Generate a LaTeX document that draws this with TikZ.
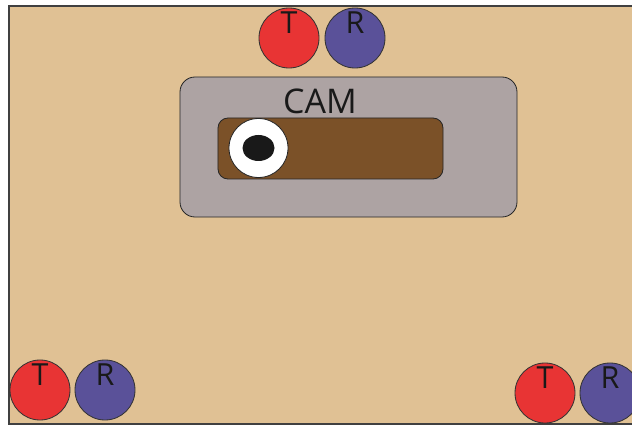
\documentclass[tikz,border=0pt]{standalone}
\usepackage{fontspec}
\setmainfont{Open Sans}
\usepackage{tikz}
\usetikzlibrary{positioning,shapes.geometric}

\definecolor{board}{HTML}{E0C194}
\definecolor{camgray}{HTML}{ADA3A3}
\definecolor{slot}{HTML}{7B5128}
\definecolor{tred}{HTML}{E83434}
\definecolor{rblue}{HTML}{5A5199}

\begin{document}
\begin{tikzpicture}[
  x=0.03cm, y=-0.03cm,
  every node/.style={font=\fontsize{26}{28}\selectfont},
  sensor/.style={circle,draw=black!80,line width=0.7pt,minimum size=1.8cm,inner sep=0pt},
  tx/.style={sensor,fill=tred},
  rx/.style={sensor,fill=rblue},
  letter/.style={inner sep=0pt,text=black!90}
]
  \useasboundingbox (0,0) rectangle (632,426);
  \clip (0,0) rectangle (632,426);
  \fill[white] (0,0) rectangle (632,426);
  % board
  \draw[fill=board,draw=black!75,line width=1pt] (9,6) rectangle (650,424);

  % sensor pairs, cut at the board edge
  \begin{scope}
    \clip (9.5,6.5) rectangle (650,423.5);
    \node[tx] (t1) at (289,38) {};
    \node[rx] (r1) at (355,38) {};
    \node[tx] (t2) at (40,390) {};
    \node[rx] (r2) at (105,390) {};
    \node[tx] (t3) at (545,393) {};
    \node[rx] (r3) at (610,393) {};
  \end{scope}
  \foreach \n/\l in {t1/T,r1/R,t2/T,r2/R,t3/T,r3/R}
    \node[letter] at ([yshift=0.45cm]\n.center) {\l};

  % camera
  \node[draw=black!85,line width=0.7pt,fill=camgray,rounded corners=0.45cm,
        minimum width=10.11cm,minimum height=4.2cm] (cam) at (348.5,147) {};
  \node[letter,font=\fontsize{29}{31}\selectfont] (camtxt) at (320,101) {CAM};
  \node[draw=black!85,line width=0.7pt,fill=slot,rounded corners=0.3cm,
        minimum width=6.75cm,minimum height=1.83cm] (track) at (330.5,148.5) {};
  \node[circle,draw=black!85,line width=0.7pt,fill=white,minimum size=1.77cm] (lens) at (258.5,148) {};
  \node[ellipse,fill=black!90,minimum width=0.96cm,minimum height=0.78cm,inner sep=0pt] (pupil) at (lens.center) {};
\end{tikzpicture}
\end{document}
